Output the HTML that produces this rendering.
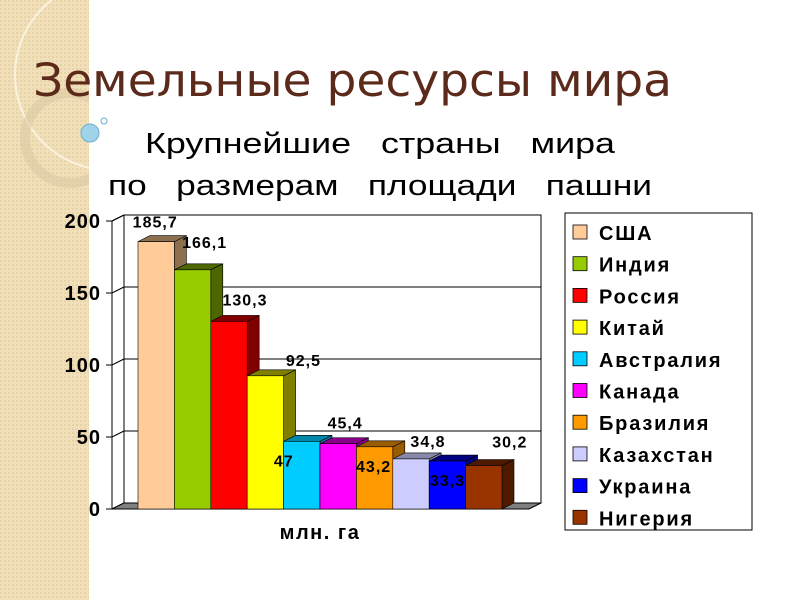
<!DOCTYPE html>
<html><head><meta charset="utf-8"><style>
body{margin:0;width:800px;height:600px;overflow:hidden;background:#fff;font-family:"Liberation Sans",sans-serif;}
#wrap{position:relative;width:800px;height:600px;}
.pre{white-space:pre;}
</style></head><body>
<div id="wrap">
<svg width="800" height="600" id="svg">
  <defs>
    <pattern id="tex" width="4" height="4" patternUnits="userSpaceOnUse">
      <rect width="4" height="4" fill="#f0dfb8"/><rect width="2" height="2" fill="#e8d3a6"/>
    </pattern>
  </defs>
  <g>
    <rect x="0" y="0" width="89" height="600" fill="url(#tex)"/>
    <circle cx="110" cy="75" r="95" fill="none" stroke="#fbf3e0" stroke-width="2"/>
    <circle cx="70" cy="138" r="45" fill="none" stroke="#dccaa3" stroke-width="10" opacity="0.6"/>
    <rect x="89" y="0" width="711" height="600" fill="#fff"/>
    <circle cx="90" cy="133" r="9" fill="#9fd3ea" stroke="#6ab0d0"/>
    <circle cx="104" cy="121" r="3" fill="#fff" stroke="#6ab0d0"/>
  </g>
  <text x="33" y="96" font-family="DejaVu Sans, sans-serif" font-size="45" fill="#5b2a1a" textLength="639" lengthAdjust="spacingAndGlyphs">Земельные  ресурсы  мира</text>
  <text class="pre" x="145" y="153" font-size="29" textLength="470" lengthAdjust="spacingAndGlyphs">Крупнейшие   страны   мира</text>
  <text class="pre" x="108" y="195" font-size="29" textLength="544" lengthAdjust="spacingAndGlyphs">по   размерам   площади   пашни</text>
  <g id="plot"></g>
  <g id="legend"></g>
</svg>
</div>
<script>
const countries=["США","Индия","Россия","Китай","Австралия","Канада","Бразилия","Казахстан","Украина","Нигерия"];
const values=[185.7,166.1,130.3,92.5,47,45.4,43.2,34.8,33.3,30.2];
const valueLabels=["185,7","166,1","130,3","92,5","47","45,4","43,2","34,8","33,3","30,2"];
const ticks=[0,50,100,150,200];
const colors=["#ffcc99","#99cc00","#ff0000","#ffff00","#00ccff","#ff00ff","#ff9900","#ccccff","#0000ff","#993300"];
const sides=["#8c7050","#4d6600","#800000","#808000","#0088aa","#880088","#995c00","#8888aa","#000080","#4d1a00"];
const NS="http://www.w3.org/2000/svg";
const y0=509,yTop=221,vmax=200;
const ys=v=>y0-(v/vmax)*(y0-yTop);
const dx=12,dy=-6;
const barX0=138,barW=36.4;
const xs=i=>barX0+i*barW;
function mk(tag,attrs,parent){const e=document.createElementNS(NS,tag);for(const k in attrs)e.setAttribute(k,attrs[k]);parent.appendChild(e);return e;}
const plot=document.getElementById('plot');
const wall=mk('rect',{x:112+dx,y:yTop+dy,width:541-124,height:(y0-yTop),fill:'#fff',stroke:'#000','stroke-width':1},plot);

mk('line',{x1:112,y1:yTop,x2:112+dx,y2:yTop+dy,stroke:'#000'},plot);
ticks.forEach(t=>{
  if(t>0){const g=mk('line',{x1:112+dx,y1:ys(t)+dy,x2:541,y2:ys(t)+dy,stroke:'#000','stroke-width':1},plot);
  }
  mk('line',{x1:106,y1:ys(t),x2:112,y2:ys(t),stroke:'#000'},plot);
  mk('line',{x1:112,y1:ys(t),x2:112+dx,y2:ys(t)+dy,stroke:'#000'},plot);
  const tl=mk('text',{x:101,y:ys(t)+7,'font-size':20,'font-weight':'bold','text-anchor':'end','letter-spacing':1},plot);
  tl.textContent=t;
  
});
const fl=mk('polygon',{points:`112,${y0} ${112+dx},${y0+dy} 541,${y0+dy} 529,${y0}`,fill:'#808080',stroke:'#000'},plot);

mk('line',{x1:112,y1:yTop,x2:112,y2:y0,stroke:'#000'},plot);
mk('line',{x1:112,y1:y0,x2:529,y2:y0,stroke:'#000'},plot);
values.forEach((v,i)=>{
  const x=xs(i),y=ys(v),w=barW;
  const g=mk('g',{},plot);
  
  mk('polygon',{points:`${x+w},${y} ${x+w+dx},${y+dy} ${x+w+dx},${y0+dy} ${x+w},${y0}`,fill:sides[i],stroke:'#000','stroke-width':0.6},g);
  mk('polygon',{points:`${x},${y} ${x+dx},${y+dy} ${x+w+dx},${y+dy} ${x+w},${y}`,fill:sides[i],stroke:'#000','stroke-width':0.6},g);
  mk('rect',{x:x,y:y,width:w,height:y0-y,fill:colors[i],stroke:'#000','stroke-width':0.6},g);
});
const lOff=[[-1,-14],[12,-22],[16,-16],[38,-10],[-18,25],[7,-15],[-1,25],[17,-12],[0,25],[26,-18]];
values.forEach((v,i)=>{
  const t=mk('text',{x:xs(i)+barW/2+lOff[i][0],y:ys(v)+lOff[i][1],'font-size':16,'font-weight':'bold','text-anchor':'middle','letter-spacing':1},plot);
  t.textContent=valueLabels[i];
  
});
const xt=mk('text',{x:320,y:539,'font-size':20,'font-weight':'bold','text-anchor':'middle','letter-spacing':1.5},plot);
xt.textContent='млн. га';

const lg=document.getElementById('legend');
const lb=mk('rect',{x:565,y:213,width:187,height:317,fill:'#fff',stroke:'#000'},lg);

countries.forEach((c,i)=>{
  const g=mk('g',{},lg);
  
  const yy=225+i*31.7;
  mk('rect',{x:573,y:yy,width:14,height:14,fill:colors[i],stroke:'#000','stroke-width':0.8},g);
  const t=mk('text',{x:599,y:yy+15,'font-size':20,'font-weight':'bold','letter-spacing':1.8},g);
  t.textContent=c;
});
</script>
</body></html>
